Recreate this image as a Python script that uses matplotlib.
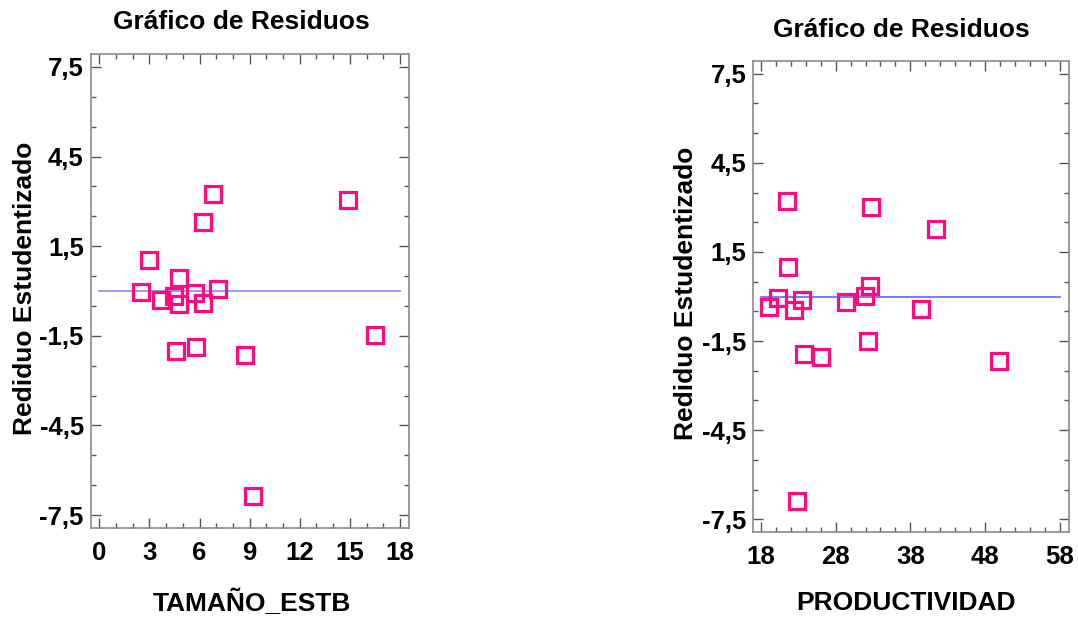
import numpy as np
import matplotlib
matplotlib.use("Agg")
import matplotlib.pyplot as plt
from matplotlib.ticker import FixedLocator, MultipleLocator, FuncFormatter

plt.rcParams["font.family"] = ["Liberation Sans", "DejaVu Sans"]
plt.rcParams["font.weight"] = "bold"

# left panel: residuals vs TAMAÑO_ESTB
tamano = [6.83, 14.91, 6.23, 2.99, 4.79, 2.50, 7.13, 5.73, 3.68, 4.47,
          4.79, 6.23, 4.59, 5.79, 8.71, 16.51, 9.19]
res_tamano = [3.26, 3.06, 2.30, 1.03, 0.43, -0.04, 0.07, -0.07, -0.31, -0.18,
              -0.45, -0.40, -2.01, -1.89, -2.15, -1.46, -6.87]

# right panel: residuals vs PRODUCTIVIDAD
productividad = [21.5, 32.75, 41.4, 21.7, 32.6, 31.9, 20.35, 23.5, 19.1, 22.5,
                 29.4, 39.4, 32.3, 23.8, 26.1, 49.9, 22.8]
res_prod = [3.21, 3.02, 2.27, 0.98, 0.37, 0.03, -0.06, -0.11, -0.34, -0.47,
            -0.17, -0.43, -1.50, -1.92, -2.03, -2.17, -6.90]

title = "Gráfico de Residuos"
ylabel = "Rediduo Estudentizado"
y_major = [-7.5, -4.5, -1.5, 1.5, 4.5, 7.5]
y_minor = np.arange(-7.5, 7.6, 1.0)

W, H = 1078, 618
fig = plt.figure(figsize=(W / 100, H / 100), dpi=100)


def comma(v, pos):
    return ("%.1f" % v).replace(".", ",")


def panel(rect, x, y, xlim, xmaj, xmin, xlabel, line_color, tx, ty, xlx, ylx, yly):
    l, t, r, b = rect
    ax = fig.add_axes([l / W, 1 - b / H, (r - l) / W, (b - t) / H])
    ax.plot(x, y, ls="none", marker="s", ms=11.5, mfc="none",
            mec="#ff0a7f", mew=2.3, zorder=3)
    ax.plot([xmaj[0], xmaj[-1]], [0, 0], color=line_color, lw=1.3, zorder=2)
    ax.set_xlim(*xlim)
    ax.set_ylim(-7.93, 7.93)
    ax.xaxis.set_major_locator(FixedLocator(xmaj))
    ax.xaxis.set_minor_locator(MultipleLocator(xmin))
    ax.yaxis.set_major_locator(FixedLocator(y_major))
    ax.yaxis.set_minor_locator(FixedLocator(y_minor))
    ax.yaxis.set_major_formatter(FuncFormatter(comma))
    ax.tick_params(which="both", direction="in", top=True, right=True,
                   color="#555555", width=1.0, labelsize=18.5, pad=5)
    ax.tick_params(which="major", length=7)
    ax.tick_params(which="minor", length=3.5)
    ax.tick_params(axis="x", pad=9)
    for s in ax.spines.values():
        s.set_color("#8a8a8a")
        s.set_linewidth(1.2)
    fig.text(tx / W, 1 - ty / H, title, ha="center", va="center",
             fontsize=19, fontweight="bold")
    fig.text(xlx / W, 1 - 603 / H, xlabel, ha="center", va="center",
             fontsize=19, fontweight="bold")
    fig.text(ylx / W, 1 - yly / H, ylabel, ha="center", va="center",
             rotation=90, fontsize=19, fontweight="bold")
    return ax


panel((90.7, 54, 409, 528), tamano, res_tamano, (-0.52, 18.54),
      list(range(0, 19, 3)), 1, "TAMAÑO_ESTB", "#9090ff", 241, 22, 252, 25, 288)
panel((753.3, 61, 1069, 532), productividad, res_prod, (17.0, 59.2),
      list(range(18, 59, 10)), 2, "PRODUCTIVIDAD", "#7070ff", 901, 30, 906, 686, 293)

fig.savefig("out.png", dpi=100)
